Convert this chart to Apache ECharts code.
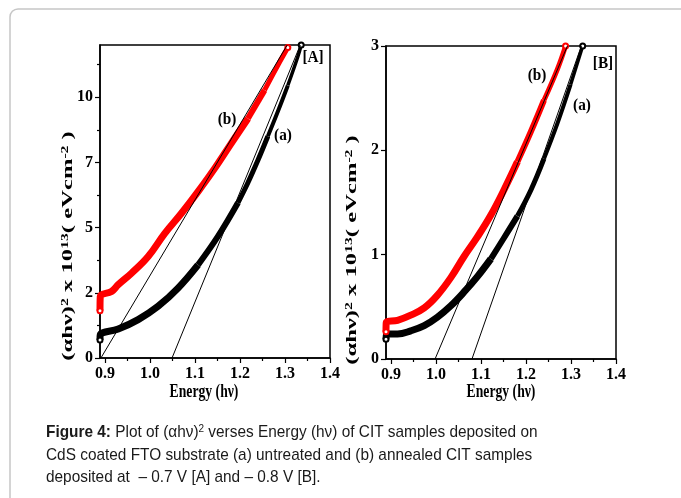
<!DOCTYPE html>
<html>
<head>
<meta charset="utf-8">
<script src="https://cdn.jsdelivr.net/npm/echarts@6/dist/echarts.min.js"></script>
<style>
  html, body { margin: 0; padding: 0; background: #fff; }
  #chart { width: 681px; height: 498px; }
</style>
</head>
<body>
<div id="chart"></div>
<script>
// panel [A] : -0.7 V, curve (a) untreated (black), curve (b) annealed (red)
const energyAa = [0.889, 0.8896, 0.9295, 0.9738, 1.018, 1.0624, 1.1068, 1.151, 1.1955, 1.2176, 1.2398, 1.2619, 1.2841, 1.3063, 1.3285, 1.336]
const valueAa = [0.69, 0.89, 1.11, 1.47, 1.98, 2.68, 3.57, 4.66, 5.95, 6.72, 7.58, 8.5, 9.45, 10.45, 11.55, 12.0]
const energyAb = [0.889, 0.8896, 0.9146, 0.9295, 0.959, 0.996, 1.033, 1.07, 1.1068, 1.1438, 1.1806, 1.2176, 1.2546, 1.2841, 1.3063]
const valueAb = [1.81, 2.36, 2.55, 2.81, 3.25, 3.89, 4.78, 5.55, 6.38, 7.27, 8.23, 9.18, 10.27, 11.22, 11.9]
// tangent (extrapolation) lines, [A]
const fitAa = [[1.049, 0], [1.334, 12]]
const fitAb = [[0.891, 0], [1.305, 12]]

// panel [B] : -0.8 V
const energyBa = [0.889, 0.8896, 0.9146, 0.944, 0.974, 1.003, 1.033, 1.062, 1.092, 1.122, 1.151, 1.181, 1.211, 1.24, 1.27, 1.299, 1.326]
const valueBa = [0.19, 0.24, 0.24, 0.27, 0.32, 0.4, 0.51, 0.64, 0.79, 0.96, 1.16, 1.37, 1.62, 1.92, 2.26, 2.63, 3.0]
const energyBb = [0.889, 0.8896, 0.9146, 0.944, 0.974, 1.003, 1.033, 1.062, 1.092, 1.122, 1.151, 1.181, 1.211, 1.24, 1.27, 1.288]
const valueBb = [0.26, 0.35, 0.37, 0.42, 0.49, 0.61, 0.78, 0.98, 1.17, 1.38, 1.62, 1.89, 2.18, 2.48, 2.78, 3.0]
const fitBa = [[1.08, 0], [1.323, 3]]
const fitBb = [[0.998, 0], [1.292, 3]]

// ticks
const xTicks = [0.9, 1.0, 1.1, 1.2, 1.3, 1.4]
const xMinor = [0.95, 1.05, 1.15, 1.25, 1.35]
const yTicksA = [0, 2.5, 5, 7.5, 10]
const yMinorA = [1.25, 3.75, 6.25, 8.75, 11.25]
const yTicksB = [0, 1, 2, 3]

const serif = 'Liberation Serif'
const black = '#000'
const red = '#f00'

// the scatter band gets thinner where the points spread out, so the
// curve is drawn in pieces: [energy where piece starts, line width]
function curve (idx, xs, ys, color, pieces) {
  let out = []
  pieces.forEach((p, k) => {
    let from = xs.findIndex(x => x >= p[0])
    let to = k + 1 < pieces.length ? xs.findIndex(x => x >= pieces[k + 1][0]) : xs.length - 1
    let data = []
    for (let i = Math.max(from, 0); i <= to; i++) {
      let item = { value: [xs[i], ys[i]] }
      if (i === 0 || i === xs.length - 1) {
        item.symbol = 'emptyCircle'
        item.symbolSize = 5
      }
      data.push(item)
    }
    out.push({
      type: 'line',
      xAxisIndex: idx,
      yAxisIndex: idx,
      data: data,
      smooth: 0.4,
      symbol: 'none',
      lineStyle: { color: color, width: p[1], cap: 'butt', join: 'round' },
      itemStyle: { color: color, borderColor: color, borderWidth: 1.2 },
      z: 3
    })
  })
  return out
}

function fitLine (idx, pts) {
  return {
    type: 'line',
    xAxisIndex: idx,
    yAxisIndex: idx,
    data: pts,
    symbol: 'none',
    lineStyle: { color: black, width: 1 },
    z: 4
  }
}

function xAxis (grid, minor) {
  return {
    type: 'value',
    gridIndex: grid,
    position: 'bottom',
    min: 0.889,
    max: 1.4,
    splitLine: { show: false },
    axisLine: { show: !minor, lineStyle: { color: black, width: 1.5 } },
    axisTick: {
      show: true,
      inside: false,
      length: minor ? 3 : 5,
      customValues: minor ? xMinor : xTicks,
      lineStyle: { color: black, width: 1.2 }
    },
    axisLabel: {
      show: !minor,
      customValues: xTicks,
      formatter: v => v.toFixed(1),
      color: black,
      fontFamily: serif,
      fontWeight: 'bold',
      fontSize: 16,
      margin: 8
    }
  }
}

function yAxis (grid, max, ticks, labelFmt) {
  return {
    type: 'value',
    gridIndex: grid,
    position: 'left',
    min: 0,
    max: max,
    splitLine: { show: false },
    axisLine: { show: true, lineStyle: { color: black, width: 1.5 } },
    axisTick: { show: true, inside: false, length: 5, customValues: ticks, lineStyle: { color: black, width: 1.2 } },
    axisLabel: {
      customValues: ticks,
      formatter: labelFmt,
      color: black,
      fontFamily: serif,
      fontWeight: 'bold',
      fontSize: 16,
      margin: 7
    }
  }
}

function serifText (text, x, y, size, sx) {
  return {
    type: 'text',
    x: x,
    y: y,
    scaleX: sx || 1,
    style: {
      text: text,
      font: 'bold ' + size + 'px "' + serif + '"',
      fill: black,
      align: 'center',
      verticalAlign: 'middle'
    }
  }
}

function yName (x, y) {
  return {
    type: 'text',
    x: x,
    y: y,
    rotation: Math.PI / 2,
    scaleX: 1.12,
    scaleY: 0.7,
    style: {
      text: '(αhν){s|2} x 10{s|13}( eVcm{s|-2} )',
      font: 'bold 22px "' + serif + '"',
      fill: black,
      align: 'center',
      verticalAlign: 'middle',
      rich: {
        s: { fontSize: 14, fontWeight: 'bold', fontFamily: serif, verticalAlign: 'top', fill: black }
      }
    }
  }
}

let chart = echarts.init(document.getElementById('chart'))
let option = {
  backgroundColor: '#fff',
  animation: false,
  grid: [
    { left: 100, top: 45, width: 230, height: 313, show: true, borderColor: black, borderWidth: 1.5, containLabel: false },
    { left: 386, top: 46, width: 230, height: 313, show: true, borderColor: black, borderWidth: 1.5, containLabel: false }
  ],
  xAxis: [xAxis(0, false), xAxis(1, false), xAxis(0, true), xAxis(1, true)],
  yAxis: [
    yAxis(0, 12, yTicksA, v => String(Math.floor(v))),
    yAxis(1, 3, yTicksB, v => String(v)),
    {
      type: 'value',
      gridIndex: 0,
      position: 'left',
      min: 0,
      max: 12,
      splitLine: { show: false },
      axisLine: { show: false },
      axisTick: { show: true, inside: false, length: 3, customValues: yMinorA, lineStyle: { color: black, width: 1.2 } },
      axisLabel: { show: false }
    }
  ],
  series: [
    ...curve(0, energyAa, valueAa, black, [[0, 7], [1.1, 6], [1.19, 5], [1.26, 4], [1.3, 3.5]]),
    ...curve(0, energyAb, valueAb, red, [[0, 7], [1.2, 6], [1.25, 5]]),
    fitLine(0, fitAa),
    fitLine(0, fitAb),
    ...curve(1, energyBa, valueBa, black, [[0, 7], [1.12, 6], [1.18, 5], [1.24, 4], [1.29, 3.5]]),
    ...curve(1, energyBb, valueBb, red, [[0, 7], [1.18, 6], [1.23, 5]]),
    fitLine(1, fitBa),
    fitLine(1, fitBb)
  ],
  graphic: [
    // outer rounded frame
    {
      type: 'rect',
      shape: { x: 10, y: 9, width: 720, height: 540, r: 8 },
      style: { fill: 'none', stroke: '#c6c6c6', lineWidth: 1.5 },
      silent: true
    },
    yName(68, 246),
    yName(352, 250),
    serifText('Energy (hν)', 204, 392, 18, 0.76),
    serifText('Energy (hν)', 501, 392, 18, 0.76),
    serifText('[A]', 313, 58, 17, 0.9),
    serifText('(b)', 227, 120, 17, 0.9),
    serifText('(a)', 283, 136, 17, 0.9),
    serifText('[B]', 603, 64, 17, 0.9),
    serifText('(b)', 537, 76, 17, 0.9),
    serifText('(a)', 582, 106, 17, 0.9),
    // caption
    {
      type: 'text',
      x: 46,
      y: 432,
      scaleX: 0.905,
      style: {
        text: '{b|Figure 4:} Plot of (αhν){s|2} verses Energy (hν) of CIT samples deposited on',
        font: '17px "Liberation Sans"',
        fill: '#1a1a1a',
        verticalAlign: 'middle',
        rich: {
          b: { fontWeight: 'bold', fontSize: 17, fontFamily: 'Liberation Sans', fill: '#1a1a1a' },
          s: { fontSize: 11, fontFamily: 'Liberation Sans', verticalAlign: 'top', fill: '#1a1a1a' }
        }
      }
    },
    {
      type: 'text',
      x: 46,
      y: 455,
      scaleX: 0.905,
      style: {
        text: 'CdS coated FTO substrate (a) untreated and (b) annealed CIT samples',
        font: '17px "Liberation Sans"',
        fill: '#1a1a1a',
        verticalAlign: 'middle'
      }
    },
    {
      type: 'text',
      x: 46,
      y: 477,
      scaleX: 0.905,
      style: {
        text: 'deposited at  – 0.7 V [A] and – 0.8 V [B].',
        font: '17px "Liberation Sans"',
        fill: '#1a1a1a',
        verticalAlign: 'middle'
      }
    }
  ]
}
chart.setOption(option)
</script>
</body>
</html>
